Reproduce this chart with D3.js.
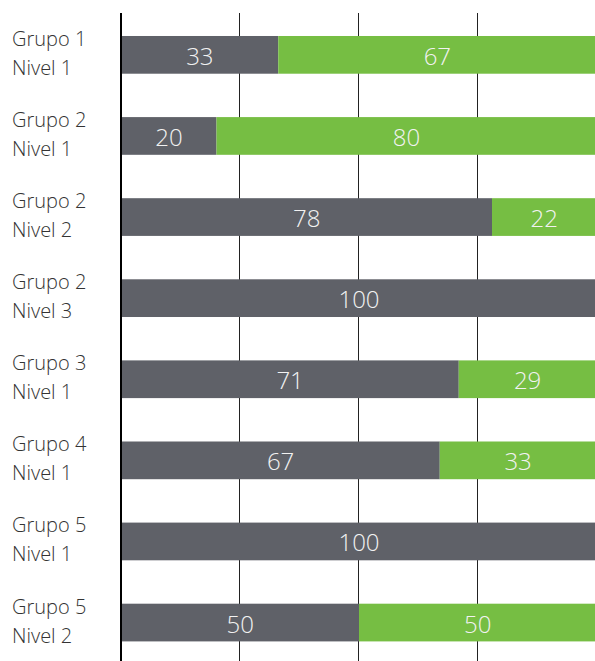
<!DOCTYPE html>
<html>
<head>
<meta charset="utf-8">
<script src="https://cdn.jsdelivr.net/npm/d3@7"></script>
<style>
  body { margin: 0; background: #fff; }
  svg { display: block; }
  .label { font-family: "Open Sans", sans-serif; font-weight: 300; font-size: 20px; fill: #333; }
  .value { font-family: "Open Sans", sans-serif; font-weight: 300; font-size: 24px; fill: #f2f2f2; }
</style>
</head>
<body>
<script>
// chart data
const groups = ["Grupo 1", "Grupo 2", "Grupo 2", "Grupo 2", "Grupo 3", "Grupo 4", "Grupo 5", "Grupo 5"];
const levels = ["Nivel 1", "Nivel 1", "Nivel 2", "Nivel 3", "Nivel 1", "Nivel 1", "Nivel 1", "Nivel 2"];
const seriesA = [33, 20, 78, 100, 71, 67, 100, 50];
const seriesB = [67, 80, 22, 0, 29, 33, 0, 50];
const gridTicks = [25, 50, 75];

const width = 595, height = 661;
const colors = ["#5f6168", "#76be43"];

let rows = groups.map((g, i) => ({ id: i, group: g, level: levels[i], a: seriesA[i], b: seriesB[i] }));

let svg = d3.select("body").append("svg").attr("width", width).attr("height", height);

let x = d3.scaleLinear().domain([0, 100]).range([121.5, 596.5]);
let y = d3.scaleBand().domain(rows.map(d => d.id)).range([14.3, 663.1]).paddingInner(0.535).paddingOuter(0.2675);

// grid lines
svg.selectAll("line.grid").data(gridTicks)
    .join("line")
    .attr("class", "grid")
    .attr("x1", d => Math.round(x(d)) - 0.5)
    .attr("x2", d => Math.round(x(d)) - 0.5)
    .attr("y1", 13)
    .attr("y2", height)
    .attr("stroke", "#222")
    .attr("stroke-width", 1);

let stacked = d3.stack().keys(["a", "b"])(rows);

let layers = svg.selectAll("g.layer").data(stacked)
    .join("g")
    .attr("class", "layer")
    .attr("fill", (d, i) => colors[i]);

layers.selectAll("rect").data(d => d)
    .join("rect")
    .attr("x", d => x(d[0]))
    .attr("width", d => x(d[1]) - x(d[0]))
    .attr("y", d => y(d.data.id))
    .attr("height", y.bandwidth());

layers.selectAll("text").data(d => d.filter(s => s[1] - s[0] > 0))
    .join("text")
    .attr("class", "value")
    .attr("text-anchor", "middle")
    .attr("x", d => (x(d[0]) + x(d[1])) / 2)
    .attr("y", d => y(d.data.id) + y.bandwidth() / 2 + 10)
    .text(d => d[1] - d[0]);

// axis line
svg.append("line")
    .attr("x1", 121).attr("x2", 121)
    .attr("y1", 13).attr("y2", height)
    .attr("stroke", "#000")
    .attr("stroke-width", 2);

// category labels
let labels = svg.selectAll("text.label").data(rows)
    .join("text")
    .attr("class", "label")
    .attr("x", 12);
labels.append("tspan")
    .attr("x", 12)
    .attr("y", d => y(d.id) + y.bandwidth() / 2 - 9)
    .text(d => d.group);
labels.append("tspan")
    .attr("x", 12)
    .attr("y", d => y(d.id) + y.bandwidth() / 2 + 20)
    .text(d => d.level);
</script>
</body>
</html>
